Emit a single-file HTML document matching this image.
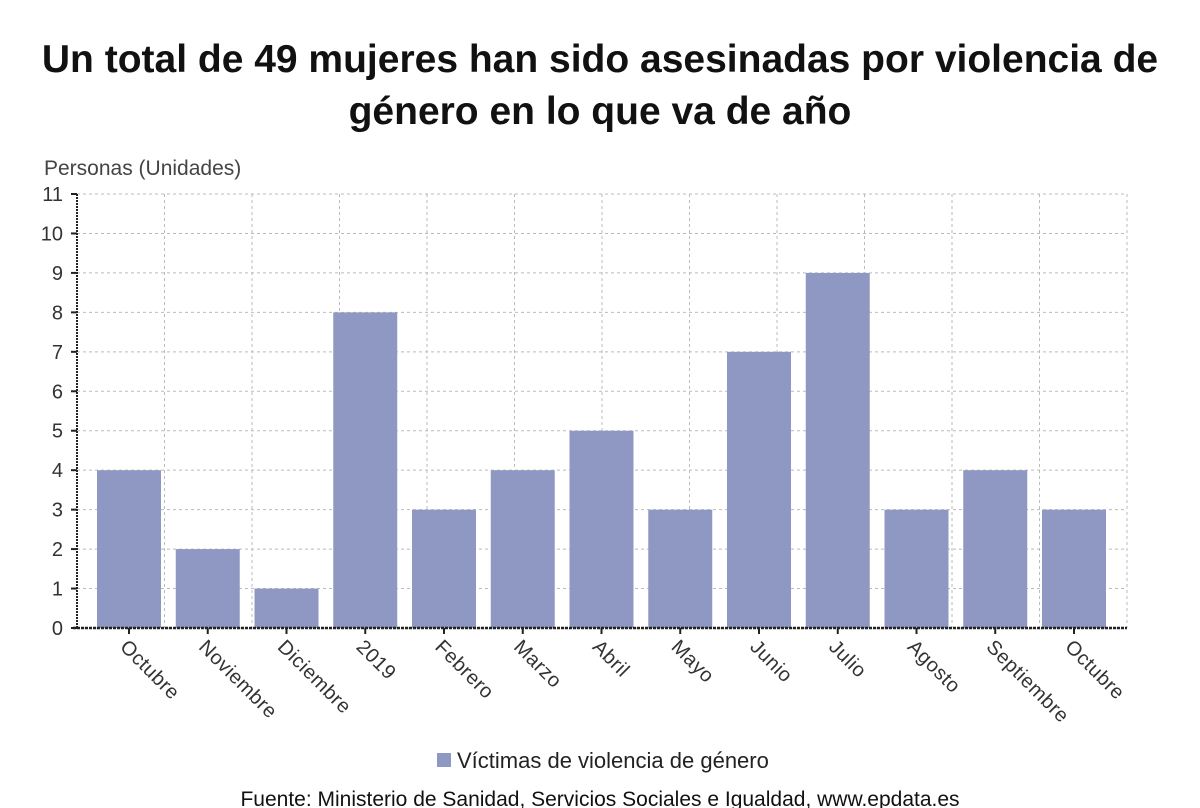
<!DOCTYPE html>
<html><head><meta charset="utf-8"><style>
body{margin:0;background:#fff;}
svg{display:block;font-family:"Liberation Sans",sans-serif;}
</style></head><body>
<svg width="1200" height="808">
<g font-size="39" font-weight="bold" fill="#111" text-anchor="middle">
<text x="600" y="72">Un total de 49 mujeres han sido asesinadas por violencia de</text>
<text x="600" y="124">género en lo que va de año</text>
</g>
<text x="44" y="175" font-size="21" fill="#444">Personas (Unidades)</text>
<g id="grid"></g><g id="bars"></g><g id="axes"></g>
<g>
<rect x="437" y="753" width="14" height="14" fill="#8f98c3"/>
<text x="457" y="768" font-size="22" fill="#222">Víctimas de violencia de género</text>
</g>
<text x="600" y="806" font-size="21" fill="#111" text-anchor="middle">Fuente: Ministerio de Sanidad, Servicios Sociales e Igualdad, www.epdata.es</text>
</svg>
<script>
const categories=["Octubre","Noviembre","Diciembre","2019","Febrero","Marzo","Abril","Mayo","Junio","Julio","Agosto","Septiembre","Octubre"];
const values=[4,2,1,8,3,4,5,3,7,9,3,4,3];
const yTicks=[0,1,2,3,4,5,6,7,8,9,10,11];
const NS="http://www.w3.org/2000/svg";
const L=77,R=1127,T=194,B=628,yMax=11;
const y=v=>B-(v/yMax)*(B-T);
const step=78.75,bw=64;
const xc=i=>97+bw/2+i*step;
function mk(tag,at,parent){const e=document.createElementNS(NS,tag);for(const k in at)e.setAttribute(k,at[k]);document.getElementById(parent).appendChild(e);return e;}
yTicks.forEach(t=>{
 const g=mk('line',{x1:L,x2:R,y1:y(t),y2:y(t),stroke:'#bbb','stroke-dasharray':'3,3'},'grid');
 
 
 const tk=mk('line',{x1:L-6,x2:L,y1:y(t),y2:y(t),stroke:'#222','stroke-width':2},'axes');
 
 
 const tx=mk('text',{x:L-14,y:y(t)+7,'font-size':20,fill:'#333','text-anchor':'end'},'axes');
 tx.textContent=t;
 
 
});
for(let k=1;k<=12;k++){
 const g=mk('line',{x1:L+k*87.5,x2:L+k*87.5,y1:T,y2:B,stroke:'#bbb','stroke-dasharray':'3,3'},'grid');
 
 
}
values.forEach((v,i)=>{
 const r=mk('rect',{x:xc(i)-bw/2,y:y(v),width:bw,height:B-y(v),fill:'#8f98c3'},'bars');
 
 
});
const ya=mk('line',{x1:L,x2:L,y1:T,y2:B,stroke:'#222','stroke-width':2,'stroke-dasharray':'2,1'},'axes');


const xa=mk('line',{x1:L-4,x2:R,y1:B,y2:B,stroke:'#222','stroke-width':2.5,'stroke-dasharray':'3,1'},'axes');


categories.forEach((c,i)=>{
 const tk=mk('line',{x1:xc(i),x2:xc(i),y1:B,y2:B+6,stroke:'#222','stroke-width':2},'axes');
 
 
 const tx=mk('text',{x:xc(i)-10,y:B+20,'font-size':20,'letter-spacing':'0.5',fill:'#333',transform:`rotate(45 ${xc(i)-10} ${B+20})`},'axes');
 tx.textContent=c;
 
 
});
</script>
</body></html>
